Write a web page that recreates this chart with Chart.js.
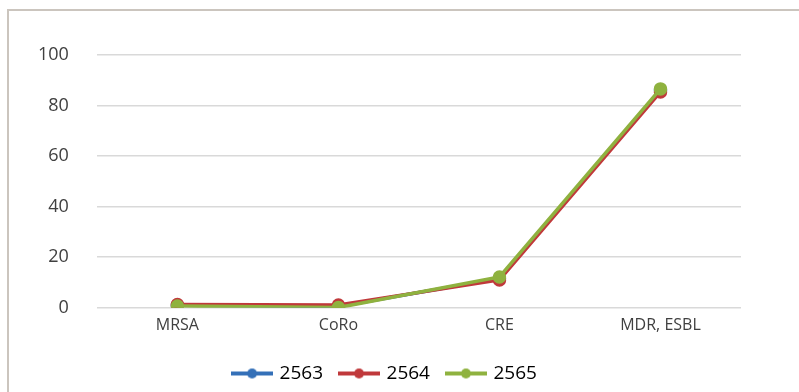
<!DOCTYPE html>
<html>
  <head>
    <script src="https://cdn.jsdelivr.net/npm/chart.js@4"></script>
    <style>
      body { margin: 0; background: #fff; overflow: hidden; }
      #frame {
        position: absolute; left: 7px; top: 9px; width: 800px; height: 400px;
        border-left: 2px solid #cbc5be; border-top: 2px solid #cbc5be;
      }
      #wrap { position: absolute; left: 0; top: 0; width: 799px; height: 393px; }
    </style>
  </head>
  <body>
    <div id="frame"></div>
    <div id="wrap"><canvas id="canvas"></canvas></div>
    <script>
      const categories = ['MRSA', 'CoRo', 'CRE', 'MDR, ESBL'];
      const years = ['2563', '2564', '2565'];
      const values2563 = [1.0, 0.5, 11.6, 86.0];
      const values2564 = [1.3, 1.1, 11.0, 85.4];
      const values2565 = [0.7, 0.1, 12.2, 86.6];
      const colors = ['#3470b8', '#c0393b', '#8fb23f'];

      // legend marker: short line with a dot in the middle
      function marker(color) {
        const c = document.createElement('canvas');
        c.width = 42; c.height = 12;
        const g = c.getContext('2d');
        g.strokeStyle = color; g.lineWidth = 4;
        g.beginPath(); g.moveTo(0, 6); g.lineTo(42, 6); g.stroke();
        g.fillStyle = color;
        g.beginPath(); g.arc(21, 6, 5, 0, Math.PI * 2); g.fill();
        return c;
      }

      // nudge the legend a little to the right, like the original
      const shiftLegend = {
        id: 'shiftLegend',
        afterLayout(chart) {
          chart.legend.left += 10;
          chart.legend.right += 10;
        },
      };

      const series = [values2563, values2564, values2565];
      new Chart(document.getElementById('canvas'), {
        type: 'line',
        data: {
          labels: categories,
          datasets: series.map((v, i) => ({
            label: years[i],
            data: v,
            order: 3 - i, // 2565 drawn on top
            borderColor: colors[i],
            backgroundColor: colors[i],
            borderWidth: 3.5,
            pointRadius: 5,
            pointHoverRadius: 5,
            pointStyle: 'circle',
            tension: 0,
          })),
        },
        plugins: [shiftLegend],
        options: {
          responsive: true,
          maintainAspectRatio: false,
          animation: false,
          layout: { padding: { top: 55, left: 10, right: 58, bottom: 0 } },
          scales: {
            x: {
              offset: true,
              grid: { display: false },
              border: { display: false },
              ticks: { color: '#404040', font: { family: 'Open Sans', size: 16 }, padding: 0 },
              afterFit: (axis) => { axis.height += 11; },
            },
            y: {
              min: 0,
              max: 100,
              ticks: { stepSize: 20, color: '#404040', font: { family: 'Open Sans', size: 18 }, padding: 28 },
              grid: { color: '#d9d9d9', lineWidth: 1.5, drawTicks: false },
              border: { display: false },
            },
          },
          plugins: {
            tooltip: { enabled: false },
            legend: {
              position: 'bottom',
              labels: {
                usePointStyle: true,
                pointStyleWidth: 36,
                boxHeight: 12,
                padding: 18,
                color: '#404040',
                font: { family: 'Open Sans', size: 19 },
                generateLabels: (chart) =>
                  chart.data.datasets.map((d, i) => ({
                    text: d.label,
                    pointStyle: marker(colors[i]),
                    fillStyle: colors[i],
                    strokeStyle: colors[i],
                    lineWidth: 0,
                    datasetIndex: i,
                  })),
              },
            },
          },
        },
      });
    </script>
  </body>
</html>
